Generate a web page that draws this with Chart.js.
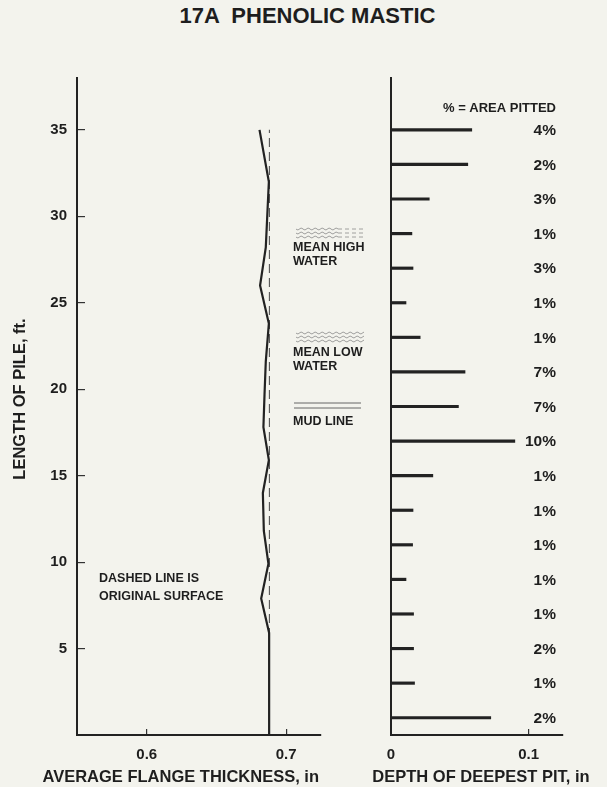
<!DOCTYPE html>
<html><head><meta charset="utf-8">
<script src="https://cdn.jsdelivr.net/npm/chart.js@4.4.0/dist/chart.umd.min.js"></script>
<style>
html,body{margin:0;padding:0;background:#f3f3ed;}
#wrap{position:relative;width:607px;height:787px;overflow:hidden;}
canvas{position:absolute;left:0;top:0;}
#title{position:absolute;left:0;top:3px;width:607px;padding-left:8px;box-sizing:border-box;text-align:center;font:bold 22px "Liberation Sans",Arial,sans-serif;color:#1e1e1e;white-space:pre;}
</style></head>
<body><div id="wrap"><div id="title">17A  PHENOLIC MASTIC</div>
<canvas id="c1" width="607" height="787"></canvas>
<canvas id="c2" width="607" height="787"></canvas></div>
<script>
// ---- data ----
const lengthFt        = [0,     5.9,    7.9,    9.9,    11.8,  14.0,   15.9,   17.8,   19.7,   21.6,   23.8,   26.0,   28.2,   32.0,   35.0];
const flangeThickness = [0.6878,0.6878, 0.6821, 0.6873, 0.6840,0.6833, 0.6876, 0.6837, 0.6845, 0.6854, 0.6876, 0.6813, 0.6854, 0.6876, 0.6809];
const originalSurface = [0.688, 0.688];
const originalLength  = [0, 35];

const pitLength  = [35, 33, 31, 29, 27, 25, 23, 21, 19, 17, 15, 13, 11, 9, 7, 5, 3, 1];
const pitDepth   = [0.0587,0.0558,0.0278,0.0152,0.0160,0.0109,0.0212,0.0538,0.0490,0.0900,0.0304,0.0160,0.0157,0.0109,0.0164,0.0164,0.0171,0.0725];
const areaPitted = ['4%','2%','3%','1%','3%','1%','1%','7%','7%','10%','1%','1%','1%','1%','1%','2%','1%','2%'];

const yTicks      = [5, 10, 15, 20, 25, 30, 35];
const leftXTicks  = [0.6, 0.7];
const rightXTicks = [0, 0.1];

const leftXTitle  = 'AVERAGE FLANGE THICKNESS, in';
const rightXTitle = 'DEPTH OF DEEPEST PIT, in';
const yTitle      = 'LENGTH OF PILE, ft.';

// ---- styles ----
const FONT = '"Liberation Sans", Arial, sans-serif';
const INK = '#1e1e1e';
Chart.defaults.font.family = FONT;
Chart.defaults.color = INK;

function wavy(ctx, x0, x1, y, amp, per){
  ctx.beginPath();
  for(let x=x0;x<=x1;x+=1){
    const yy = y + amp*Math.sin((x-x0)/per*2*Math.PI);
    if(x===x0) ctx.moveTo(x,yy); else ctx.lineTo(x,yy);
  }
  ctx.stroke();
}

const leftNotes = {
  id:'leftNotes',
  afterDraw(chart){
    const ctx = chart.ctx;
    ctx.save();
    ctx.fillStyle = INK;
    // axis titles
    ctx.font = 'bold 16.5px ' + FONT;
    ctx.textBaseline = 'middle';
    ctx.textAlign = 'right';
    ctx.fillText(leftXTitle, chart.chartArea.right - 2, 777);
    ctx.save();
    ctx.translate(20, 399);
    ctx.rotate(-Math.PI/2);
    ctx.textAlign = 'center';
    ctx.fillText(yTitle, 0, 0);
    ctx.restore();
    // notes
    ctx.font = 'bold 12.5px ' + FONT;
    ctx.textAlign = 'left';
    ctx.fillText('MEAN HIGH', 293, 248);
    ctx.fillText('WATER', 293, 262);
    ctx.fillText('MEAN LOW', 293, 353);
    ctx.fillText('WATER', 293, 367);
    ctx.fillText('MUD LINE', 293, 422);
    ctx.fillText('DASHED LINE IS', 99, 579);
    ctx.fillText('ORIGINAL SURFACE', 99, 597);
    // water symbols
    ctx.strokeStyle = '#8a8a8a';
    ctx.lineWidth = 0.8;
    [229, 233, 237].forEach(y => wavy(ctx, 296, 338, y, 0.9, 7));
    ctx.setLineDash([4,3]);
    [229, 233, 237].forEach(y => { ctx.beginPath(); ctx.moveTo(338,y); ctx.lineTo(364,y); ctx.stroke(); });
    ctx.setLineDash([]);
    [333, 337, 341].forEach(y => wavy(ctx, 296, 364, y, 0.9, 7));
    ctx.strokeStyle = '#666';
    ctx.lineWidth = 1;
    [403, 408].forEach(y => { ctx.beginPath(); ctx.moveTo(294,y); ctx.lineTo(361,y); ctx.stroke(); });
    ctx.restore();
  }
};

const rightNotes = {
  id:'rightNotes',
  afterDraw(chart){
    const ctx = chart.ctx, ys = chart.scales.y;
    const xr = chart.chartArea.right - 7;
    ctx.save();
    ctx.fillStyle = INK;
    ctx.textBaseline = 'middle';
    ctx.textAlign = 'center';
    ctx.font = 'bold 16.5px ' + FONT;
    ctx.fillText(rightXTitle, (chart.chartArea.left + chart.chartArea.right)/2 + 4, 777);
    ctx.textAlign = 'right';
    ctx.font = 'bold 13px ' + FONT;
    ctx.fillText('% = AREA PITTED', xr, 108);
    ctx.font = 'bold 15.5px ' + FONT;
    pitLength.forEach((ft, i) => {
      ctx.fillText(areaPitted[i], xr, ys.getPixelForValue(ft) + 1);
    });
    ctx.restore();
  }
};

const tickFont = {size: 15, weight: 'bold'};

new Chart(document.getElementById('c1'), {
  type: 'line',
  data: { datasets: [
    { data: lengthFt.map((y,i)=>({x: flangeThickness[i], y})), borderColor: '#222', borderWidth: 2.2, pointRadius: 0, tension: 0 },
    { data: originalLength.map((y,i)=>({x: originalSurface[i], y})), borderColor: '#555', borderWidth: 1.1, borderDash: [9,5], pointRadius: 0 }
  ]},
  options: {
    responsive: false, animation: false, events: [],
    layout: { padding: { left: 0, top: 78, right: 286, bottom: 0 } },
    plugins: { legend: { display: false }, tooltip: { enabled: false } },
    scales: {
      x: {
        type: 'linear', min: 0.55, max: 0.725,
        afterFit: s => { s.height = 52; },
        afterBuildTicks: s => { s.ticks = leftXTicks.map(v => ({value: v})); },
        grid: { drawOnChartArea: false, tickLength: -6, color: '#333', lineWidth: 1.2 },
        border: { color: '#222', width: 2 },
        ticks: { padding: 17, color: INK, font: tickFont, callback: v => v.toFixed(1) },
        title: { display: false }
      },
      y: {
        type: 'linear', min: 0, max: 38,
        afterFit: s => { s.width = 77; },
        afterBuildTicks: s => { s.ticks = yTicks.map(v => ({value: v})); },
        grid: { drawOnChartArea: false, tickLength: -8, color: '#333', lineWidth: 1.2 },
        border: { color: '#222', width: 2 },
        ticks: { padding: 18, color: INK, font: tickFont },
        title: { display: false }
      }
    }
  },
  plugins: [leftNotes]
});

new Chart(document.getElementById('c2'), {
  type: 'bar',
  data: { datasets: [
    { data: pitLength.map((y,i)=>({x: pitDepth[i], y})), backgroundColor: '#222', borderWidth: 0, barThickness: 2.5 }
  ]},
  options: {
    indexAxis: 'y',
    responsive: false, animation: false, events: [],
    layout: { padding: { left: 391, top: 78, right: 44, bottom: 0 } },
    plugins: { legend: { display: false }, tooltip: { enabled: false } },
    scales: {
      x: {
        type: 'linear', min: 0, max: 0.125,
        afterFit: s => { s.height = 52; },
        afterBuildTicks: s => { s.ticks = rightXTicks.map(v => ({value: v})); },
        grid: { drawOnChartArea: false, tickLength: -6, color: '#333', lineWidth: 1.2 },
        border: { color: '#222', width: 2 },
        ticks: { padding: 17, color: INK, font: tickFont, callback: v => v === 0 ? '0' : v.toFixed(1) },
        title: { display: false }
      },
      y: {
        type: 'linear', min: 0, max: 38, offset: false,
        afterFit: s => { s.width = 0; },
        ticks: { display: false },
        grid: { display: false, drawTicks: false, offset: false },
        border: { color: '#222', width: 2 }
      }
    }
  },
  plugins: [rightNotes]
});
</script>
</body></html>
